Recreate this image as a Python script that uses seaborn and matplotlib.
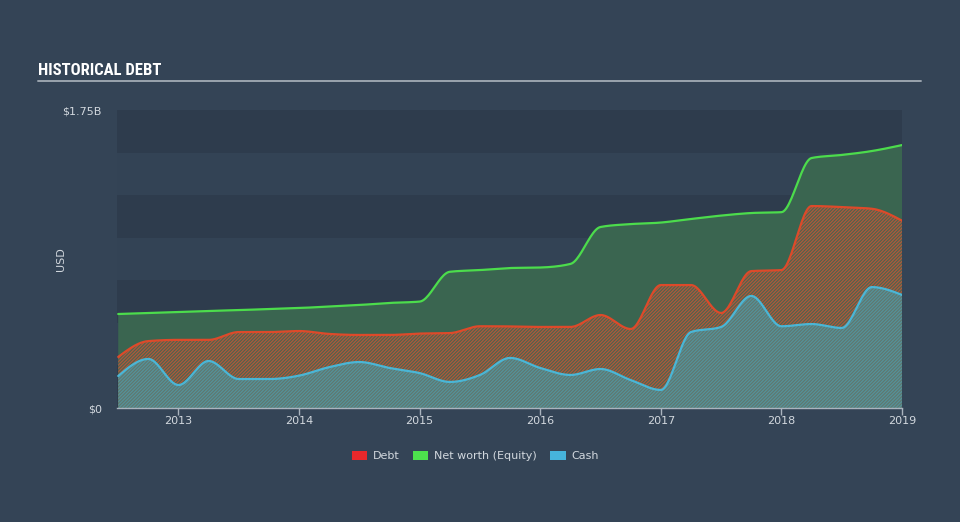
import numpy as np
import pandas as pd
import matplotlib
matplotlib.use("Agg")
import matplotlib.pyplot as plt
from matplotlib.patches import Patch
from matplotlib.lines import Line2D
import seaborn as sns

# ---- data (values in billions USD, quarterly) ----
dates = [2012.5, 2012.75, 2013.0, 2013.25, 2013.5, 2013.75, 2014.0, 2014.25, 2014.5,
         2014.75, 2015.0, 2015.25, 2015.5, 2015.75, 2016.0, 2016.25, 2016.5, 2016.75,
         2017.0, 2017.25, 2017.5, 2017.75, 2018.0, 2018.25, 2018.5, 2018.75, 2019.0]
debt = [0.300, 0.393, 0.400, 0.400, 0.446, 0.446, 0.452, 0.435, 0.429, 0.429, 0.437,
        0.440, 0.480, 0.479, 0.476, 0.476, 0.546, 0.464, 0.722, 0.722, 0.558, 0.804,
        0.810, 1.186, 1.180, 1.170, 1.100]
equity = [0.552, 0.558, 0.564, 0.570, 0.575, 0.581, 0.587, 0.596, 0.605, 0.617, 0.625,
          0.800, 0.810, 0.822, 0.825, 0.846, 1.063, 1.080, 1.089, 1.110, 1.130, 1.145,
          1.150, 1.468, 1.486, 1.509, 1.544]
cash = [0.188, 0.288, 0.135, 0.276, 0.170, 0.170, 0.190, 0.240, 0.270, 0.235, 0.205,
        0.153, 0.194, 0.294, 0.235, 0.194, 0.229, 0.164, 0.106, 0.446, 0.476, 0.658,
        0.480, 0.493, 0.470, 0.710, 0.664]
year_ticks = [2013, 2014, 2015, 2016, 2017, 2018, 2019]
y_ticks = [0, 1.75e9]
y_tick_labels = ["$0", "$1.75B"]
legend_labels = ["Debt", "Net worth (Equity)", "Cash"]

# ---- styling ----
BG = "#344456"
BAND_DARK = "#2e3c4d"
BAND_LIGHT = "#334355"
TXT = "#d2d8de"
C_DEBT = "#dd4a2a"
C_EQ = "#4cdc4c"
C_CASH = "#4ab6d6"


def monotone_curve(x, y, per=24):
    """d3-style monotoneX rendering of a polyline (draw-time smoothing)."""
    x = np.asarray(x, float)
    y = np.asarray(y, float)
    n = len(x)
    h = np.diff(x)
    s = np.diff(y) / h
    m = np.zeros(n)
    for i in range(1, n - 1):
        h0, h1 = h[i - 1], h[i]
        s0, s1 = s[i - 1], s[i]
        p = (s0 * h1 + s1 * h0) / (h0 + h1)
        m[i] = (np.sign(s0) + np.sign(s1)) * min(abs(s0), abs(s1), 0.5 * abs(p))
    m[0] = (3 * s[0] - m[1]) / 2
    m[-1] = (3 * s[-1] - m[-2]) / 2
    xs, ys = [], []
    for i in range(n - 1):
        t = np.linspace(0, 1, per, endpoint=(i == n - 2))
        t2, t3 = t * t, t * t * t
        h00 = 2 * t3 - 3 * t2 + 1
        h10 = t3 - 2 * t2 + t
        h01 = -2 * t3 + 3 * t2
        h11 = t3 - t2
        xs.append(x[i] + t * h[i])
        ys.append(h00 * y[i] + h10 * h[i] * m[i] + h01 * y[i + 1] + h11 * h[i] * m[i + 1])
    return np.concatenate(xs), np.concatenate(ys)


sns.set_theme(style="dark")
plt.rcParams["font.family"] = ["DejaVu Sans"]
plt.rcParams["hatch.linewidth"] = 0.9

fig = plt.figure(figsize=(9.6, 5.22), dpi=100, facecolor=BG)
ax = fig.add_axes([117 / 960, 1 - 408 / 522, (902 - 117) / 960, (408 - 110) / 522])
ax.set_facecolor(BAND_DARK)

# alternating bands
for k in range(7):
    ax.axhspan(k * 0.25e9, (k + 1) * 0.25e9,
               color=BAND_DARK if k % 2 == 0 else BAND_LIGHT, lw=0, zorder=0)

series = {}
for name, vals in (("Net worth (Equity)", equity), ("Debt", debt), ("Cash", cash)):
    xs, ys = monotone_curve(dates, np.array(vals) * 1e9)
    series[name] = (xs, ys)

xe, ye = series["Net worth (Equity)"]
xd, yd = series["Debt"]
xc, yc = series["Cash"]

ax.fill_between(xe, 0, ye, facecolor="#3a6550", edgecolor="none", lw=0, zorder=1)
ax.fill_between(xd, 0, yd, facecolor="#4a6450", edgecolor="#b0583a", hatch="/" * 10,
                lw=0, zorder=2)
ax.fill_between(xc, 0, yc, facecolor="#60766c", edgecolor="#54929a", hatch="/" * 10,
                lw=0, zorder=3)

df = pd.concat([
    pd.DataFrame({"date": xs, "value": ys, "series": nm})
    for nm, (xs, ys) in series.items()
])
sns.lineplot(data=df, x="date", y="value", hue="series",
             palette={"Debt": C_DEBT, "Net worth (Equity)": C_EQ, "Cash": C_CASH},
             linewidth=1.6, ax=ax, legend=False, sort=False, estimator=None, zorder=5)

ax.set_xlim(2012.49, 2019.0)
ax.set_ylim(0, 1.75e9)
ax.set_xticks(year_ticks)
ax.set_xticklabels([str(y) for y in year_ticks], color=TXT, fontsize=8)
ax.set_yticks(y_ticks)
ax.set_yticklabels(y_tick_labels, color=TXT, fontsize=8)
ax.tick_params(axis="x", length=5, width=1, color="#aab4be", pad=1, direction="out",
               bottom=True)
ax.tick_params(axis="y", length=0, pad=11)
ax.set_xlabel("")
ax.set_ylabel("USD", color=TXT, fontsize=8)
ax.yaxis.set_label_coords((66 - 117) / 785, 0.5)
ax.grid(False)
for side in ("top", "left", "right"):
    ax.spines[side].set_visible(False)
ax.spines["bottom"].set_visible(True)
ax.spines["bottom"].set_color("#aab4be")
ax.spines["bottom"].set_linewidth(1)
ax.spines["bottom"].set_zorder(6)

# title and rule
fig.text(38 / 960, 1 - 75 / 522, "HISTORICAL DEBT", color="white", fontsize=12,
         fontweight="bold",
         family=["Roboto Condensed", "Open Sans Condensed", "Liberation Sans Narrow",
                 "Liberation Sans"],
         va="baseline", ha="left")
fig.add_artist(Line2D([38 / 960, 921 / 960], [1 - 81 / 522, 1 - 81 / 522],
                      color="#9aa4ae", lw=1.4))

handles = [Patch(facecolor=c, edgecolor="none") for c in ("#e8282b", "#4de24d", "#46b4dc")]
fig.legend(handles, legend_labels, loc="center", bbox_to_anchor=(0.495, 1 - 456 / 522),
           ncol=3, frameon=False, fontsize=8, labelcolor=TXT, handlelength=1.4,
           handleheight=0.9, handletextpad=0.5, columnspacing=1.2)

fig.savefig("out.png", dpi=100, facecolor=BG)
